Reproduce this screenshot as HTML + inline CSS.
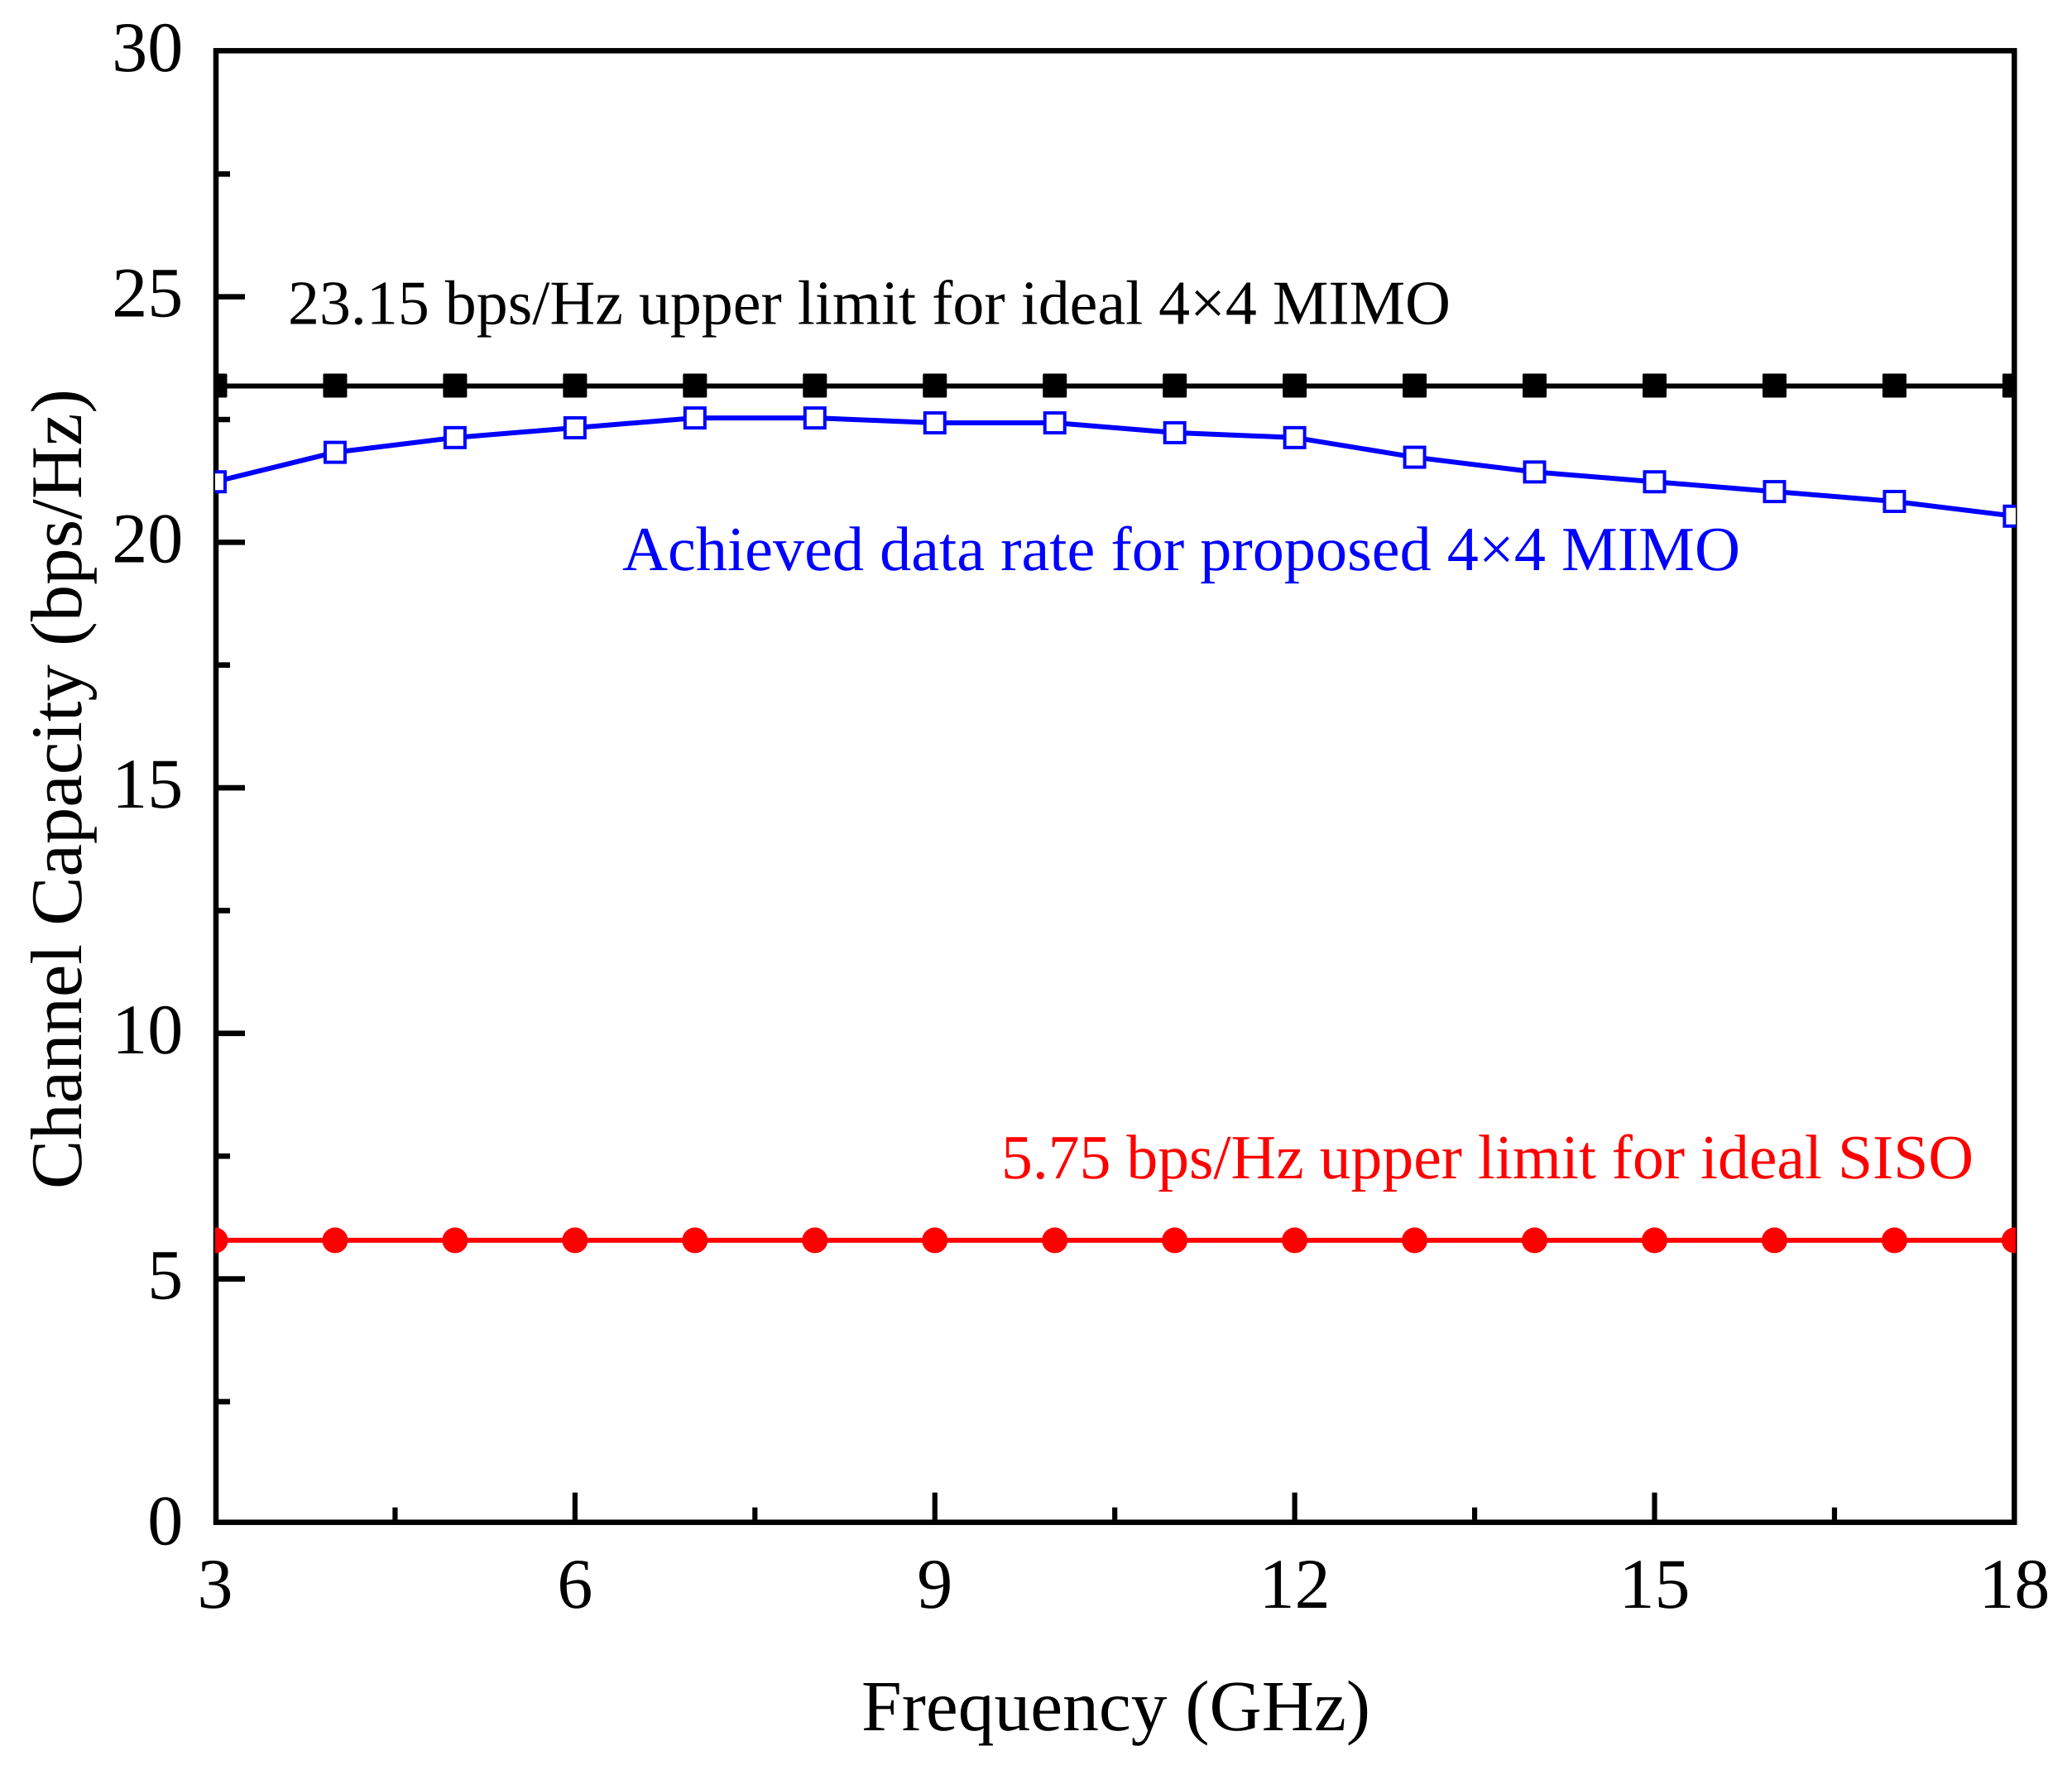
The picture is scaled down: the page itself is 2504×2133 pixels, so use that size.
<!DOCTYPE html>
<html lang="en">
<head>
<meta charset="utf-8">
<title>Channel Capacity vs Frequency</title>
<style>
  html, body { margin: 0; padding: 0; background: #fff; }
  body { width: 2504px; height: 2133px; overflow: hidden; }
  svg { display: block; }
  text { font-family: "Liberation Serif", "Times New Roman", serif; font-kerning: none; text-rendering: geometricPrecision; }
</style>
</head>
<body>
<svg id="chart" xmlns="http://www.w3.org/2000/svg" width="2504" height="2133" viewBox="0 0 2504 2133">
  <defs>
    <clipPath id="plot-clip"><rect x="260" y="56" width="2176" height="1790"></rect></clipPath>
  </defs>
  <rect x="0" y="0" width="2504" height="2133" fill="#ffffff"></rect>
  <g id="ticks"></g>
  <rect x="261" y="61.3" width="2173.3" height="1778.4" fill="none" stroke="#000" stroke-width="6.5"></rect>
  <g id="series" clip-path="url(#plot-clip)"></g>
  <text x="1041" y="2091" font-size="87" textLength="615" lengthAdjust="spacingAndGlyphs" fill="#000">Frequency (GHz)</text>
  <text transform="translate(98,1437) rotate(-90)" font-size="88" textLength="967" lengthAdjust="spacingAndGlyphs" fill="#000">Channel Capacity (bps/Hz)</text>
  <text x="348" y="391.5" font-size="76" textLength="1405" lengthAdjust="spacingAndGlyphs" fill="#000">23.15 bps/Hz upper limit for ideal 4×4 MIMO</text>
  <text x="752" y="689" font-size="76" textLength="1351" lengthAdjust="spacingAndGlyphs" fill="#0000ff">Achieved data rate for proposed 4×4 MIMO</text>
  <text x="1210" y="1424" font-size="76" textLength="1175" lengthAdjust="spacingAndGlyphs" fill="#ff0000">5.75 bps/Hz upper limit for ideal SISO</text>
</svg>
<script>
const frequencies = [3,4,5,6,7,8,9,10,11,12,13,14,15,16,17,18];
const idealMimo = [23.15,23.15,23.15,23.15,23.15,23.15,23.15,23.15,23.15,23.15,23.15,23.15,23.15,23.15,23.15,23.15];
const achievedMimo = [21.2,21.8,22.1,22.3,22.5,22.5,22.4,22.4,22.2,22.1,21.7,21.4,21.2,21.0,20.8,20.5];
const idealSiso = [5.75,5.75,5.75,5.75,5.75,5.75,5.75,5.75,5.75,5.75,5.75,5.75,5.75,5.75,5.75,5.75];
const xMajorTicks = [3,6,9,12,15,18];
const xMinorTicks = [4.5,7.5,10.5,13.5,16.5];
const yMajorTicks = [0,5,10,15,20,25,30];
const yMinorTicks = [2.5,7.5,12.5,17.5,22.5,27.5];

const NS = 'http://www.w3.org/2000/svg';
const X_MIN = 3, X_MAX = 18, Y_MIN = 0, Y_MAX = 30;
const LEFT = 260, RIGHT = 2434.4, TOP = 60.1, BOTTOM = 1840.1;
const TICK_TOP = 61.9, TICK_BOTTOM = 1842.3;
const AXIS_LEFT = 261, AXIS_BOTTOM = 1839.7;
function xScale(v) { return LEFT + (v - X_MIN) / (X_MAX - X_MIN) * (RIGHT - LEFT); }
function yScale(v) { return BOTTOM - (v - Y_MIN) / (Y_MAX - Y_MIN) * (BOTTOM - TOP); }
function yTickScale(v) { return TICK_BOTTOM - (v - Y_MIN) / (Y_MAX - Y_MIN) * (TICK_BOTTOM - TICK_TOP); }
function make(tag, attrs, parent) {
  const el = document.createElementNS(NS, tag);
  for (const k in attrs) el.setAttribute(k, attrs[k]);
  parent.appendChild(el);
  return el;
}
const tickLayer = document.getElementById('ticks');
const seriesLayer = document.getElementById('series');

xMajorTicks.forEach(function (t) {
  if (t !== X_MIN && t !== X_MAX) {
    const line = make('line', { x1: xScale(t), x2: xScale(t), y1: AXIS_BOTTOM, y2: AXIS_BOTTOM - 36, stroke: '#000', 'stroke-width': 6.2 }, tickLayer);
    
    
  }
  const label = make('text', { x: xScale(t), y: 1943, 'font-size': 86, 'text-anchor': 'middle', fill: '#000' }, tickLayer);
  label.textContent = String(t);
  
  
});
xMinorTicks.forEach(function (t) {
  const line = make('line', { x1: xScale(t), x2: xScale(t), y1: AXIS_BOTTOM, y2: AXIS_BOTTOM - 18, stroke: '#000', 'stroke-width': 6.2 }, tickLayer);
  
  
});
yMajorTicks.forEach(function (t) {
  if (t !== Y_MIN && t !== Y_MAX) {
    const line = make('line', { x1: AXIS_LEFT, x2: AXIS_LEFT + 35, y1: yTickScale(t), y2: yTickScale(t), stroke: '#000', 'stroke-width': 6.6 }, tickLayer);
    
    
  }
  const label = make('text', { x: 221.3, y: yTickScale(t) + 24, 'font-size': 86, 'text-anchor': 'end', fill: '#000' }, tickLayer);
  label.textContent = String(t);
  
  
});
yMinorTicks.forEach(function (t) {
  const line = make('line', { x1: AXIS_LEFT, x2: AXIS_LEFT + 17, y1: yTickScale(t), y2: yTickScale(t), stroke: '#000', 'stroke-width': 6.6 }, tickLayer);
  
  
});

function pointsOf(values) {
  return values.map(function (v, i) { return xScale(frequencies[i]) + ',' + yScale(v); }).join(' ');
}

const idealMimoLine = make('polyline', { points: pointsOf(idealMimo), fill: 'none', stroke: '#000', 'stroke-width': 6 }, seriesLayer);


idealMimo.forEach(function (v, i) {
  const cx = xScale(frequencies[i]), cy = yScale(v);
  const m = make('rect', { x: cx - 14.5, y: cy - 15, width: 29, height: 29, rx: 1.5, fill: '#000' }, seriesLayer);
  
  
});

const achievedLine = make('polyline', { points: pointsOf(achievedMimo), fill: 'none', stroke: '#0000ff', 'stroke-width': 6 }, seriesLayer);


achievedMimo.forEach(function (v, i) {
  const cx = xScale(frequencies[i]), cy = yScale(v);
  const m = make('rect', { x: cx - 12, y: cy - 12, width: 24, height: 24, fill: '#fff', stroke: '#0000ff', 'stroke-width': 4 }, seriesLayer);
  
  
});

const sisoLine = make('polyline', { points: pointsOf(idealSiso), fill: 'none', stroke: '#ff0000', 'stroke-width': 6 }, seriesLayer);


idealSiso.forEach(function (v, i) {
  const m = make('circle', { cx: xScale(frequencies[i]), cy: yScale(v), r: 15.5, fill: '#ff0000' }, seriesLayer);
  
  
});
</script>
</body>
</html>
